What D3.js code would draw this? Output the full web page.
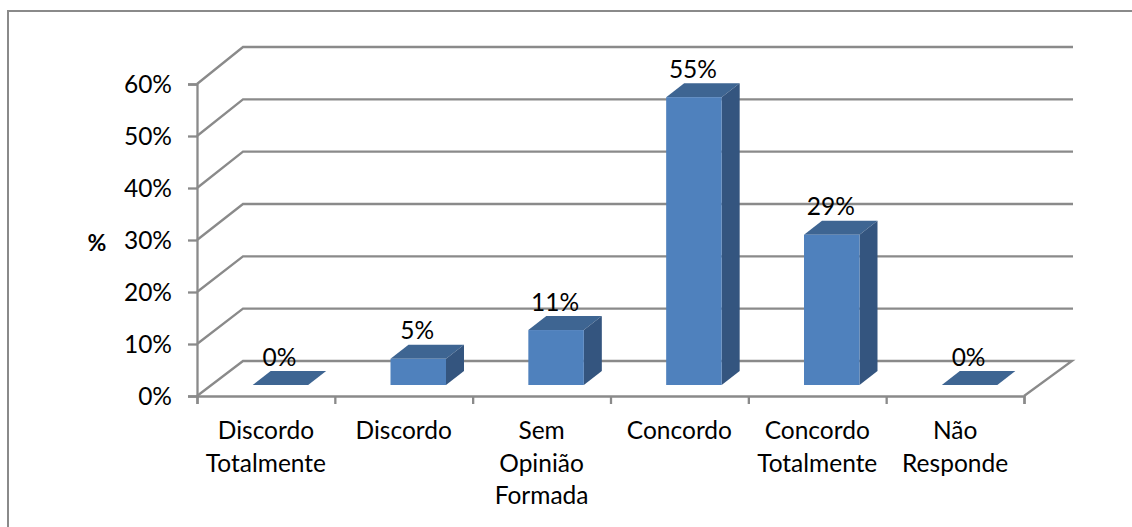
<!DOCTYPE html>
<html><head><meta charset="utf-8">
<script src="https://cdn.jsdelivr.net/npm/d3@7"></script>
<style>html,body{margin:0;padding:0;background:#fff}svg{display:block}text{font-family:Lato,Carlito,sans-serif;fill:#000}</style>
</head><body><svg id="c" width="1132" height="527"></svg>
<script>
const categories = [["Discordo","Totalmente"],["Discordo"],["Sem","Opinião","Formada"],["Concordo"],["Concordo","Totalmente"],["Não","Responde"]];
const values = [0, 5, 10.5, 55, 28.7, 0];
const yTicks = [0, 10, 20, 30, 40, 50, 60];
const yTitle = "%";

const W = 1132, H = 527, FS = 24.5;
const svg = d3.select("#c");
const GRID = "#8a8a8a";
const SW = 2.3;
const x0 = 197, x1 = 1024, backDx = 46, floorBackX = 1072;
const yFront = d3.scaleLinear().domain([0, 60]).range([396, 84]);
const yBack = d3.scaleLinear().domain([0, 60]).range([361, 47]);
const yBar = d3.scaleLinear().domain([0, 60]).range([385, 71]);
const xBand = d3.scaleBand().domain(d3.range(categories.length)).range([x0, x1]);
const faceShift = 14.5, faceW = 55.5, dDx = 18, dDy = 14;

// outer frame
svg.append("path").attr("d", `M8,${H}V11H${W}`).attr("fill", "none").attr("stroke", GRID).attr("stroke-width", 2);

// grid walls
const line = d3.line();
svg.append("g").selectAll("path").data(yTicks.slice(1)).join("path")
  .attr("d", v => line([[x0, yFront(v)], [x0 + backDx, yBack(v)], [floorBackX + 1, yBack(v)]]))
  .attr("fill", "none").attr("stroke", GRID).attr("stroke-width", SW);
// floor
svg.append("path")
  .attr("d", line([[x0, yFront(0)], [x0 + backDx, yBack(0)], [floorBackX, yBack(0)], [x1, yFront(0)]]))
  .attr("fill", "none").attr("stroke", GRID).attr("stroke-width", SW);

// axes
const yAxis = d3.axisLeft(yFront).tickValues(yTicks).tickSize(9).tickPadding(16).tickFormat(d => d + "%");
const gy = svg.append("g").attr("transform", `translate(${x0},0)`).call(yAxis);
const xAxis = d3.axisBottom(d3.scaleLinear().domain([0, categories.length]).range([x0, x1]))
  .ticks(categories.length).tickSize(8).tickFormat("");
const gx = svg.append("g").attr("transform", `translate(0,${yFront(0)})`).call(xAxis);
[gy, gx].forEach(g => {
  g.selectAll("path,line").attr("stroke", GRID).attr("stroke-width", SW);
  g.select(".domain").attr("fill", "none");
});
gy.selectAll("text").attr("font-size", FS).attr("font-family", "Lato,Carlito,sans-serif").attr("fill", "#000").attr("dy", "0.34em");

// category labels
const cat = svg.append("g").selectAll("text").data(categories).join("text")
  .attr("text-anchor", "middle").attr("font-size", FS);
cat.each(function (lines, i) {
  d3.select(this).selectAll("tspan").data(lines).join("tspan")
    .attr("x", xBand(i) + xBand.bandwidth() / 2)
    .attr("y", (d, k) => 439 + k * 32.5)
    .text(d => d);
});

// y title
svg.append("text").attr("x", 97).attr("y", 251).attr("text-anchor", "middle")
  .attr("font-size", 23).attr("font-weight", 700).text(yTitle);

// bars
const faceX = i => xBand(i) + xBand.bandwidth() / 2 + faceShift - faceW / 2;
const bars = svg.append("g").selectAll("g").data(values).join("g");
bars.append("path").attr("fill", "#3E6592")
  .attr("d", (v, i) => { const x = faceX(i), y = yBar(v);
    return line([[x, y], [x + dDx, y - dDy], [x + faceW + dDx, y - dDy], [x + faceW, y]]) + "Z"; });
bars.append("path").attr("fill", "#34557F")
  .attr("d", (v, i) => { const x = faceX(i) + faceW, y = yBar(v), b = yBar(0);
    return line([[x, y], [x + dDx, y - dDy], [x + dDx, b - dDy], [x, b]]) + "Z"; });
bars.append("rect").attr("fill", "#4F81BD")
  .attr("x", (v, i) => faceX(i)).attr("width", faceW)
  .attr("y", v => yBar(v)).attr("height", v => yBar(0) - yBar(v));

// data labels
svg.append("g").selectAll("text").data(values).join("text")
  .attr("text-anchor", "middle").attr("font-size", FS)
  .attr("x", (v, i) => faceX(i) + faceW / 2 - 1)
  .attr("y", v => yBar(v) - 19.5)
  .text(v => Math.round(v) + "%");
</script></body></html>
